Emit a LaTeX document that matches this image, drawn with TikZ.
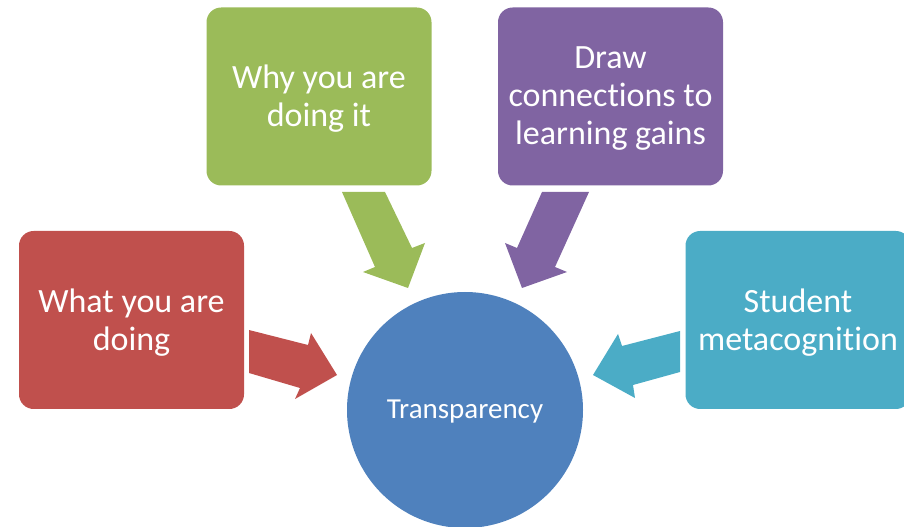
\documentclass[tikz,border=0pt]{standalone}
\usepackage{fontspec}
\setmainfont{Carlito}[Ligatures={NoCommon,NoContextual},Contextuals={NoAlternate}]
\definecolor{boxred}{HTML}{C0504D}
\definecolor{boxgreen}{HTML}{9BBB59}
\definecolor{boxpurple}{HTML}{8064A2}
\definecolor{boxteal}{HTML}{4BACC6}
\definecolor{circblue}{HTML}{4F81BD}
\begin{document}
\begin{tikzpicture}[x=0.75pt,y=-0.75pt,
  box/.style={rounded corners=11pt, minimum width=168.75pt, minimum height=133.5pt,
    inner sep=0pt},
  boxtext/.style={inner sep=0pt, text=white, align=center, font=\fontsize{25.5}{28.5}\selectfont},
  hub/.style={circle, fill=circblue, minimum size=177pt, inner sep=0pt},
  hubtext/.style={inner sep=0pt, text=white, font=\fontsize{21.75}{26}\selectfont}]
\useasboundingbox (0,0) rectangle (904,527);
\clip (0,0) rectangle (904,527);
\node[box, fill=boxred] (what) at (131.5,320) {};
\node[box, fill=boxgreen] (why) at (319,96.5) {};
\node[box, fill=boxpurple] (draw) at (610.5,96.5) {};
\node[box, fill=boxteal] (meta) at (798,320) {};
\node[hub] (tr) at (465,410) {};
\node[boxtext] (whatt) at ([yshift=-1.6pt]what.center) {What you are\\doing};
\node[boxtext] (whyt) at ([yshift=-1.6pt]why.center) {Why you are\\doing it};
\node[boxtext] (drawt) at ([yshift=-1.6pt]draw.center) {Draw\\connections to\\learning gains};
\node[boxtext] (metat) at ([yshift=-1.6pt]meta.center) {Student\\metacognition};
\node[hubtext] (trt) at ([yshift=-1.5pt]tr.center) {Transparency};
% block arrows
\fill[boxred] (249,330) -- (308,345) -- (311,333) -- (337,375) -- (295,399) -- (300,388) -- (249,373) -- cycle;
\fill[boxgreen] (342,192) -- (385,192) -- (412,248) -- (425,243) -- (408,288) -- (363,272) -- (375,267) -- cycle;
\fill[boxpurple] (589,192) -- (542,192) -- (517,248) -- (505,243) -- (522,288) -- (567,272) -- (555,267) -- cycle;
\fill[boxteal] (680,331) -- (622,346) -- (618,334) -- (593,375) -- (635,398) -- (633,385) -- (680,372) -- cycle;
\end{tikzpicture}
\end{document}
